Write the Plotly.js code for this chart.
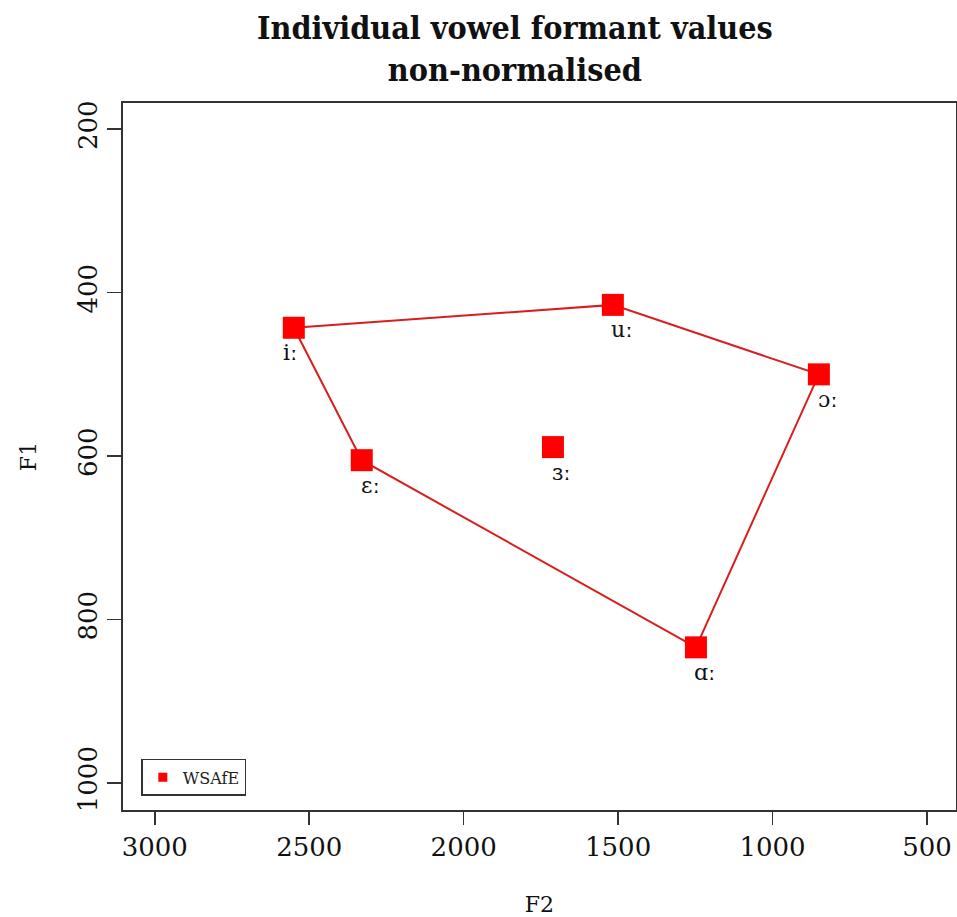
<!DOCTYPE html>
<html>
<head>
<meta charset="utf-8">
<script src="https://cdn.plot.ly/plotly-3.0.1.min.js"></script>
<style>
  html, body { margin: 0; padding: 0; background: #fff; }
  #chart { width: 957px; height: 917px; }
</style>
</head>
<body>
<div id="chart"></div>
<script>
// Mean formant values (Hz) per vowel for WSAfE
const vowels = ['iː', 'uː', 'ɔː', 'ɑː', 'ɛː', 'ɜː'];
const f2 = [2550, 1517, 850, 1248, 2330, 1711];
const f1 = [443, 415, 500, 834, 605, 589];

// Peripheral vowels that form the vowel-space polygon (in drawing order)
const polygonOrder = ['iː', 'uː', 'ɔː', 'ɑː', 'ɛː', 'iː'];

const xTicks = [3000, 2500, 2000, 1500, 1000, 500];
const yTicks = [200, 400, 600, 800, 1000];

const serif = 'DejaVu Serif, Liberation Serif, serif';
const labelShiftX = { 'iː': -4 };

const polyX = polygonOrder.map(v => f2[vowels.indexOf(v)]);
const polyY = polygonOrder.map(v => f1[vowels.indexOf(v)]);

const traces = [
  {
    x: polyX, y: polyY, type: 'scatter', mode: 'lines',
    line: { color: '#d81e1e', width: 2 },
    showlegend: false, hoverinfo: 'skip'
  },
  {
    x: f2, y: f1, type: 'scatter', mode: 'markers',
    marker: { symbol: 'square', size: 22, color: '#ff0000' },
    text: vowels, showlegend: false
  },
  {
    // legend key
    x: [null], y: [null], type: 'scatter', mode: 'markers',
    name: 'WSAfE',
    marker: { symbol: 'square', size: 9, color: '#ff0000' },
    showlegend: true
  }
];

const annotations = vowels.map((v, i) => ({
  x: f2[i], y: f1[i], xref: 'x', yref: 'y',
  text: v, showarrow: false,
  xshift: labelShiftX[v] !== undefined ? labelShiftX[v] : 9,
  yshift: -25,
  font: { family: serif, size: 22, color: '#111' }
}));

const layout = {
  width: 957, height: 917,
  paper_bgcolor: '#fff', plot_bgcolor: '#fff',
  margin: { l: 123, r: 1, t: 103, b: 107 },
  title: {
    text: 'Individual vowel formant values<br>non-normalised',
    font: { family: 'DejaVu Serif Condensed, DejaVu Serif, serif', size: 32, color: '#111', weight: 'bold' },
    xref: 'container', x: 0.538, xanchor: 'center',
    yref: 'container', y: 0.957, yanchor: 'top'
  },
  xaxis: {
    range: [3103, 406],
    tickvals: xTicks, ticktext: xTicks.map(String),
    ticks: 'outside', ticklen: 13, tickwidth: 1.5, tickcolor: '#333',
    showline: true, mirror: true, linecolor: '#333', linewidth: 2,
    showgrid: false, zeroline: false,
    tickfont: { family: serif, size: 26, color: '#111' },
    title: { text: 'F2', font: { family: serif, size: 22, color: '#111' }, standoff: 36 }
  },
  yaxis: {
    range: [1033, 168],
    tickvals: yTicks, ticktext: yTicks.map(String),
    tickangle: -90,
    ticks: 'outside', ticklen: 14, tickwidth: 1.5, tickcolor: '#333',
    showline: true, mirror: true, linecolor: '#333', linewidth: 2,
    showgrid: false, zeroline: false,
    tickfont: { family: serif, size: 26, color: '#111' },
    title: { text: 'F1', font: { family: serif, size: 22, color: '#111' }, standoff: 30 }
  },
  legend: {
    x: 0.022, y: 0.02, xanchor: 'left', yanchor: 'bottom',
    bgcolor: '#fff', bordercolor: '#333', borderwidth: 1.5,
    font: { family: serif, size: 16, color: '#222' },
    itemwidth: 30
  },
  annotations: annotations,
  showlegend: true
};

Plotly.newPlot('chart', traces, layout, { displayModeBar: false, staticPlot: true });
</script>
</body>
</html>
